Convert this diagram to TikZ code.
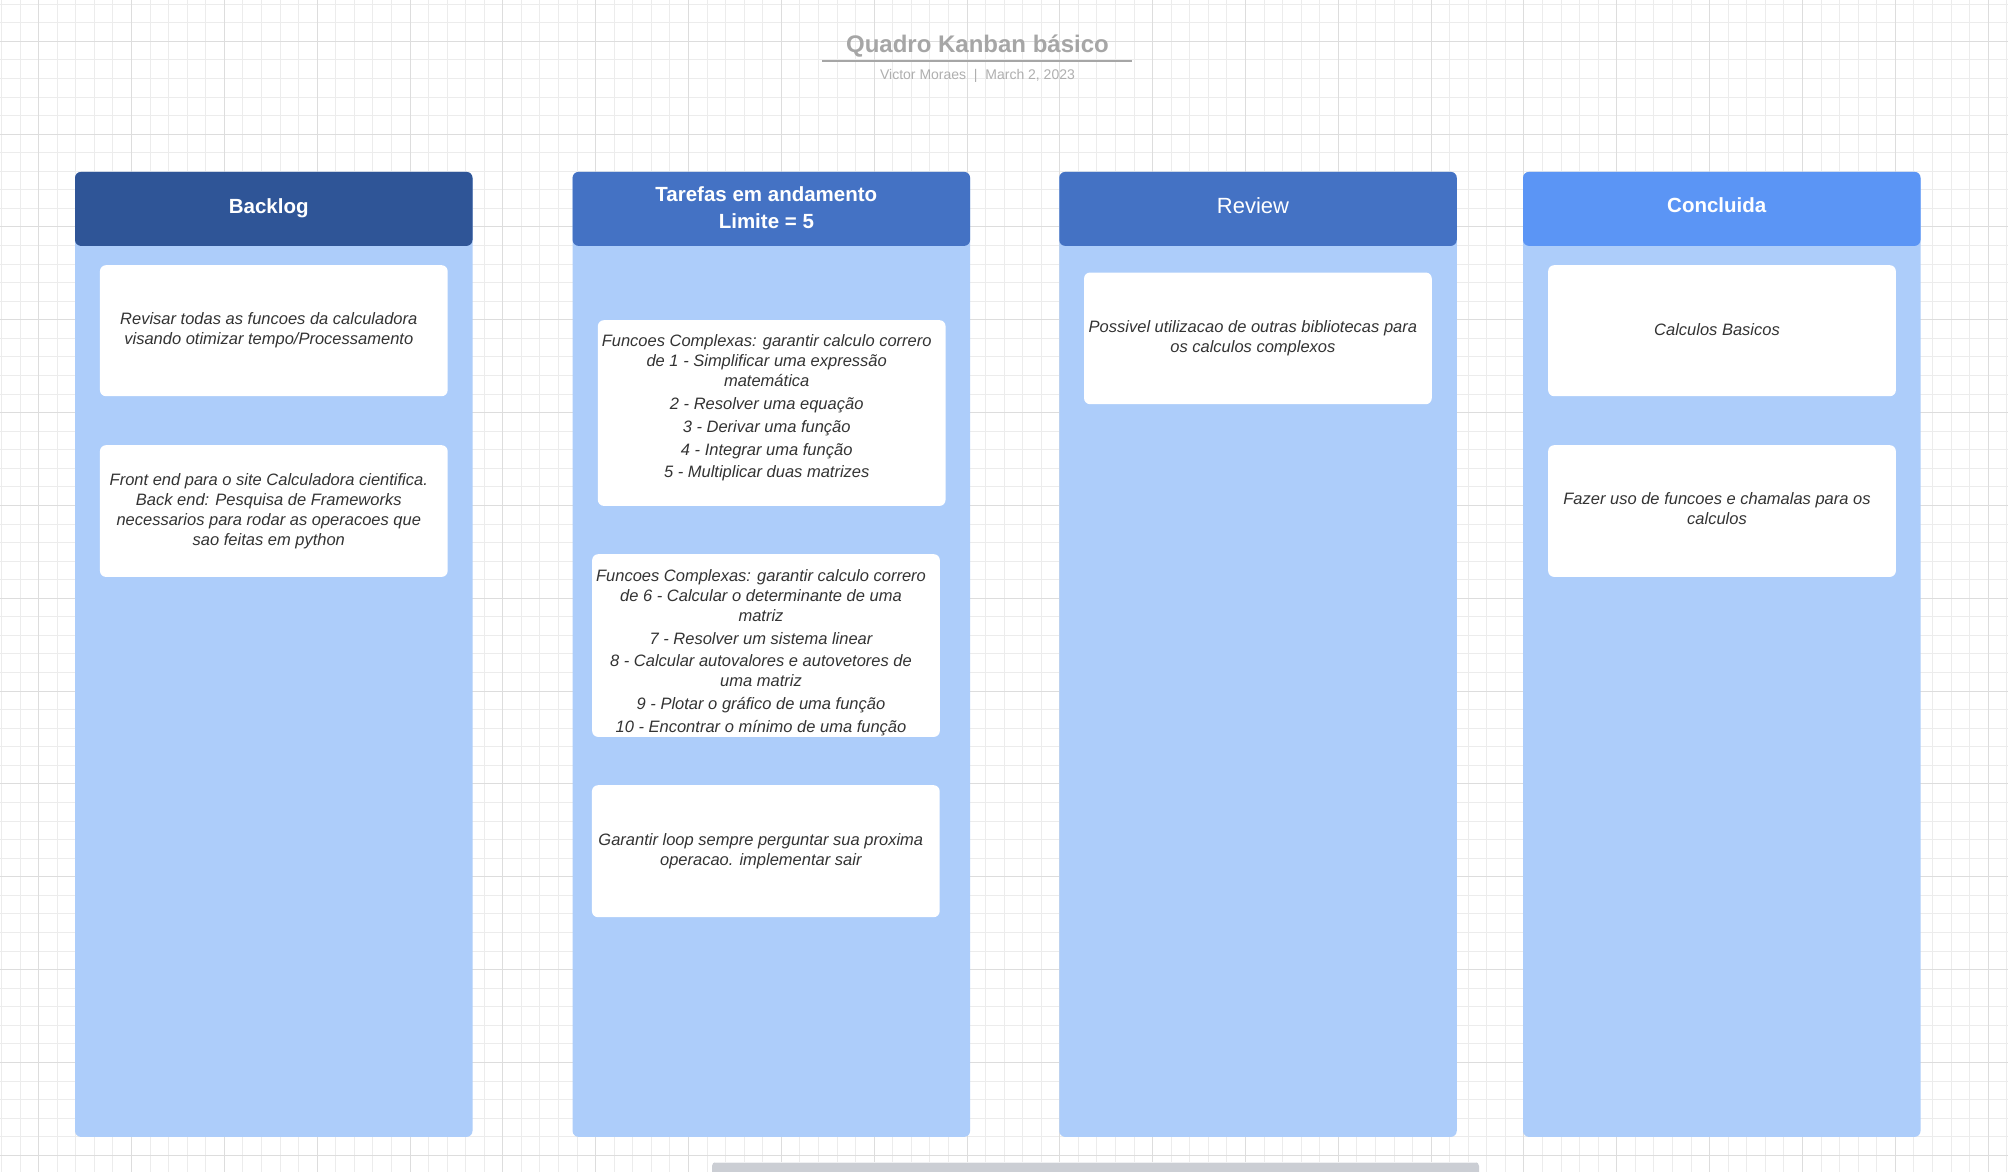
\documentclass[tikz,border=0pt]{standalone}
\usepackage{fontspec}
\setmainfont{Liberation Sans}
\usepackage{tikz}
\definecolor{headdark}{RGB}{47,85,151}
\definecolor{headmid}{RGB}{68,114,196}
\definecolor{headlight}{RGB}{91,149,245}
\definecolor{laneblue}{RGB}{173,205,250}
\definecolor{cardgray}{RGB}{51,51,51}
\definecolor{titlegray}{RGB}{166,166,166}
\definecolor{gridminor}{RGB}{236,236,236}
\definecolor{gridmajor}{RGB}{221,221,221}
\definecolor{scrollgray}{RGB}{203,206,212}

\begin{document}
\begin{tikzpicture}[x=1pt, y=-1pt,
        lane/.style={fill=laneblue, rounded corners=6pt, minimum width=397.5pt, minimum height=965pt, inner sep=0pt, anchor=north},
        head/.style={rounded corners=6pt, minimum width=397.5pt, minimum height=74pt, inner sep=0pt, anchor=north},
        headtext/.style={text=white, inner sep=0pt, align=center, font=\fontsize{20.5}{27.7}\selectfont\bfseries},
        card/.style={fill=white, rounded corners=6pt, minimum width=347.7pt, inner sep=0pt, anchor=north},
        note/.style={text=cardgray, inner sep=0pt, align=center, font=\fontsize{16.5}{20}\selectfont\itshape},
        minorline/.style={gridminor, line width=1pt},
        majorline/.style={gridmajor, line width=1pt}]
                \useasboundingbox (0,0) rectangle (2008,1172);
                \fill [white] (0,0) rectangle (2008,1172);
                \foreach \i in {0,...,108} {
                    \draw [minorline] ({1.57+18.566*\i},0) -- ({1.57+18.566*\i},1172);
                }
                \foreach \i in {0,...,63} {
                    \draw [minorline] (0,{4.17+18.566*\i}) -- (2008,{4.17+18.566*\i});
                }
                \foreach \i in {0,...,21} {
                    \draw [majorline] ({38.7+92.83*\i},0) -- ({38.7+92.83*\i},1172);
                }
                \foreach \i in {0,...,12} {
                    \draw [majorline] (0,{41.3+92.83*\i}) -- (2008,{41.3+92.83*\i});
                }

                \node [anchor=base, text=titlegray, font=\fontsize{24}{28}\selectfont\bfseries] (title) at (977.5,52.5) {Quadro Kanban básico};
                \coordinate (ruleL) at (822,61.5);
                \coordinate (ruleR) at (1131.7,61.5);
                \draw [titlegray, line width=2pt] (ruleL) -- (ruleR);
                \node [anchor=base, text=titlegray!90, font=\fontsize{14}{16}\selectfont] (author) at (977.5,79) {Victor Moraes ~|~ March 2, 2023};

                \foreach \cx/\name in {273.75/backlog, 771.35/doing, 1258/review, 1721.75/done} {
                    \node [lane] (\name Lane) at (\cx,171.7) {};
                }
                \node [head, fill=headdark] (backlog) at (273.75,171.7) {};
                \node [head, fill=headmid] (doing) at (771.35,171.7) {};
                \node [head, fill=headmid] (review) at (1258,171.7) {};
                \node [head, fill=headlight] (done) at (1721.75,171.7) {};
                \node [headtext] (backlogName) at ([xshift=-5pt, yshift=1pt]backlog.center) {Backlog};
                \node [headtext] (doingName) at ([xshift=-5pt, yshift=1.2pt]doing.center) {Tarefas em andamento\\Limite = 5};
                \node [headtext, font=\fontsize{22}{26}\selectfont] (reviewName) at ([xshift=-5pt, yshift=3.5pt]review.center) {Review};
                \node [headtext] (doneName) at ([xshift=-5pt, yshift=3.5pt]done.center) {Concluida};

                \node [card, minimum height=131pt] (backlogA) at (273.8,265) {};
                \node [card, minimum height=131.7pt] (backlogB) at (273.8,445) {};
                \node [card, minimum height=185.7pt] (doingA) at (771.7,320) {};
                \node [card, minimum height=182.7pt] (doingB) at (766,554) {};
                \node [card, minimum height=132pt] (doingC) at (765.8,785) {};
                \node [card, minimum height=131.7pt] (reviewA) at (1257.9,272.3) {};
                \node [card, minimum height=131pt] (doneA) at (1722,265) {};
                \node [card, minimum height=131.7pt] (doneB) at (1722,445) {};

                \node [note] (backlogAText) at ([xshift=-5pt]backlogA.center) {Revisar todas as funcoes da calculadora\\visando otimizar tempo/Processamento};
                \node [note] (backlogBText) at ([xshift=-5pt]backlogB.center) {Front end para o site Calculadora cientifica.\\Back end: Pesquisa de Frameworks\\necessarios para rodar as operacoes que\\sao feitas em python};
                \node [note] (doingAText) at ([xshift=-5pt, yshift=5pt]doingA.center) {Funcoes Complexas: garantir calculo correro\\de 1 - Simplificar uma expressão\\matemática\\[2.7pt]2 - Resolver uma equação\\[2.7pt]3 - Derivar uma função\\[2.7pt]4 - Integrar uma função\\[2.7pt]5 - Multiplicar duas matrizes};
                \node [note] (doingBText) at ([xshift=-5pt, yshift=-7pt]doingB.center) {Funcoes Complexas: garantir calculo correro\\de 6 - Calcular o determinante de uma\\matriz\\[2.7pt]7 - Resolver um sistema linear\\[2.7pt]8 - Calcular autovalores e autovetores de\\uma matriz\\[2.7pt]9 - Plotar o gráfico de uma função\\[2.7pt]10 - Encontrar o mínimo de uma função};
                \node [note] (doingCText) at ([xshift=-5pt]doingC.center) {Garantir loop sempre perguntar sua proxima\\operacao. implementar sair};
                \node [note] (reviewAText) at ([xshift=-5pt]reviewA.center) {Possivel utilizacao de outras bibliotecas para\\os calculos complexos};
                \node [note] (doneAText) at ([xshift=-5pt, yshift=1pt]doneA.center) {Calculos Basicos};
                \node [note] (doneBText) at ([xshift=-5pt, yshift=2.5pt]doneB.center) {Fazer uso de funcoes e chamalas para os\\calculos};

                \fill [scrollgray, rounded corners=4pt] (712,1180) rectangle (1479,1162);
                \draw [white!70!scrollgray, line width=1pt] (715,1162.5) -- (1476,1162.5);
            \end{tikzpicture}
\end{document}
